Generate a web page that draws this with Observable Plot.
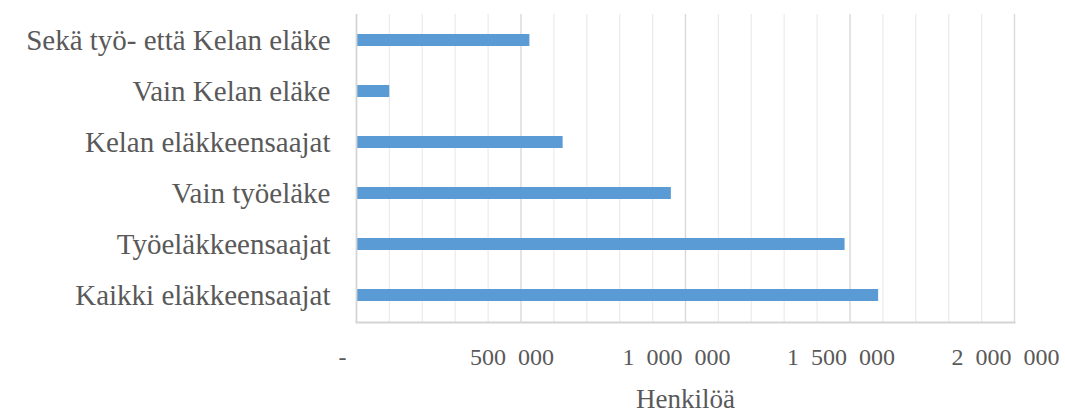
<!DOCTYPE html>
<html>
<head>
<meta charset="utf-8">
<script src="https://cdn.jsdelivr.net/npm/d3@7"></script>
<script src="https://cdn.jsdelivr.net/npm/@observablehq/plot@0.6"></script>
<style>
  html, body { margin: 0; padding: 0; background: #fff; }
  #chart svg { display: block; }
</style>
</head>
<body>
<div id="chart"></div>
<script>
const categories = [
  "Sekä työ- että Kelan eläke",
  "Vain Kelan eläke",
  "Kelan eläkkeensaajat",
  "Vain työeläke",
  "Työeläkkeensaajat",
  "Kaikki eläkkeensaajat"
];
const values = [527000, 101000, 628000, 957000, 1485000, 1587000];
const majorTicks = [0, 500000, 1000000, 1500000, 2000000];
const minorTicks = d3.range(0, 2000001, 100000).filter(v => v % 500000 !== 0);
const xLabel = "Henkilöä";

const data = categories.map((c, i) => ({category: c, value: values[i]}));
const fmt = v => v === 0 ? "-" : d3.format(",")(v).replace(/,/g, "\u2002");
const font = "'Liberation Serif', 'DejaVu Serif', serif";
const textColor = "#595959";

const chart = Plot.plot({
  width: 1065,
  height: 412,
  marginLeft: 356,
  marginRight: 51,
  marginTop: 14,
  marginBottom: 90,
  style: {fontFamily: font, background: "#fff"},
  x: {domain: [0, 2000000]},
  y: {domain: categories, paddingInner: 0.756, paddingOuter: 0.378},
  marks: [
    Plot.ruleX(minorTicks, {stroke: "#ebebeb", strokeWidth: 1.2}),
    Plot.ruleX(majorTicks.filter(v => v > 0), {stroke: "#d9d9d9", strokeWidth: 1.4}),
    Plot.barX(data, {x: "value", y: "category", fill: "#5b9bd5"}),
    Plot.ruleX([0], {stroke: "#d4d4d4", strokeWidth: 1.8}),
    Plot.frame({anchor: "bottom", stroke: "#d4d4d4", strokeWidth: 2}),
    Plot.axisY({tickSize: 0, tickPadding: 26, fontSize: 29, color: textColor, label: null}),
    Plot.axisX(majorTicks.filter(v => v > 0), {tickSize: 0, tickPadding: 25, fontSize: 24, color: textColor, tickFormat: fmt, dx: -9, label: null}),
    Plot.axisX([0], {tickSize: 0, tickPadding: 25, fontSize: 24, color: textColor, tickFormat: fmt, dx: -14, label: null}),
    Plot.text([xLabel], {frameAnchor: "bottom", dy: 85, text: d => d, fontSize: 27, fill: textColor, lineAnchor: "bottom"})
  ]
});
document.getElementById("chart").appendChild(chart);
</script>
</body>
</html>
